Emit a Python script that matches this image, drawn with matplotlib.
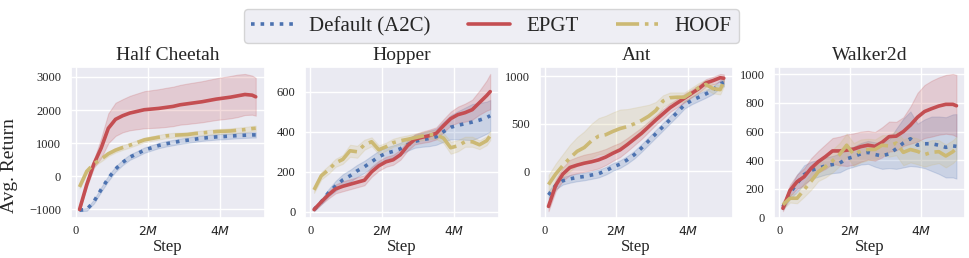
import numpy as np
import matplotlib
matplotlib.use("Agg")
import matplotlib.pyplot as plt
from matplotlib.ticker import FuncFormatter
import seaborn as sns

# training steps (millions)
steps = [0.1, 0.3, 0.5, 0.7, 0.9, 1.1, 1.3, 1.5, 1.7, 1.9, 2.1, 2.3, 2.5,
         2.7, 2.9, 3.1, 3.3, 3.5, 3.7, 3.9, 4.1, 4.3, 4.5, 4.7, 4.9, 5.0]

envs = ["Half Cheetah", "Hopper", "Ant", "Walker2d"]
methods = ["Default (A2C)", "EPGT", "HOOF"]

# Half Cheetah
hc_a2c = [-1020, -1000, -760, -400, -60, 220, 420, 580, 680, 790, 860, 930, 980,
          1020, 1060, 1090, 1120, 1150, 1170, 1190, 1200, 1215, 1230, 1240, 1250, 1250]
hc_a2c_sd = [30, 40, 60, 70, 80, 80, 80, 80, 80, 80, 80, 80, 80,
             80, 80, 80, 80, 80, 80, 80, 80, 80, 80, 80, 80, 80]
hc_epgt = [-1000, -250, 380, 850, 1450, 1720, 1830, 1910, 1960, 2010, 2030, 2050, 2080,
           2110, 2160, 2190, 2220, 2250, 2290, 2330, 2360, 2390, 2430, 2470, 2450, 2400]
hc_epgt_sd = [30, 80, 120, 300, 450, 500, 500, 520, 540, 560, 570, 580, 590,
              595, 600, 610, 615, 620, 625, 630, 635, 640, 640, 620, 590, 570]
hc_hoof = [-320, 150, 380, 520, 680, 790, 870, 940, 1020, 1100, 1140, 1180, 1220,
           1240, 1250, 1260, 1290, 1310, 1330, 1350, 1360, 1370, 1390, 1410, 1440, 1450]
hc_hoof_sd = [40, 60, 70, 70, 70, 70, 70, 70, 70, 70, 70, 70, 70,
              70, 70, 70, 70, 70, 75, 75, 75, 80, 80, 80, 80, 80]

# Hopper
hop_a2c = [12, 50, 95, 130, 160, 180, 205, 225, 250, 275, 292, 302, 315,
           335, 352, 360, 366, 375, 400, 422, 432, 440, 448, 458, 470, 480]
hop_a2c_sd = [8, 12, 18, 25, 28, 30, 30, 30, 30, 30, 30, 30, 30,
              30, 32, 35, 38, 40, 50, 60, 70, 80, 90, 85, 80, 78]
hop_epgt = [12, 50, 85, 115, 128, 138, 148, 158, 200, 230, 250, 260, 285,
            330, 362, 372, 380, 392, 430, 465, 485, 495, 510, 545, 580, 600]
hop_epgt_sd = [8, 12, 18, 22, 25, 25, 25, 25, 25, 25, 25, 25, 25,
               25, 25, 28, 30, 30, 32, 35, 40, 45, 50, 60, 75, 88]
hop_hoof = [110, 180, 210, 245, 262, 305, 300, 335, 350, 310, 325, 345, 355,
            362, 370, 378, 385, 385, 368, 320, 330, 350, 350, 335, 355, 380]
hop_hoof_sd = [15, 18, 20, 20, 22, 30, 30, 25, 22, 22, 20, 20, 20,
               20, 20, 20, 20, 22, 25, 30, 28, 25, 25, 22, 22, 22]

# Ant
ant_a2c = [-250, -150, -100, -80, -65, -55, -40, -25, 5, 45, 75, 120, 175,
           245, 320, 395, 470, 545, 620, 700, 745, 780, 815, 855, 920, 935]
ant_a2c_sd = [40, 40, 40, 40, 40, 40, 40, 40, 40, 40, 40, 40, 40,
              40, 40, 40, 40, 40, 40, 40, 40, 40, 40, 40, 40, 40]
ant_epgt = [-370, -150, -30, 40, 65, 85, 100, 120, 150, 190, 225, 280, 340,
            400, 470, 540, 605, 670, 720, 770, 820, 870, 930, 955, 985, 980]
ant_epgt_sd = [50, 60, 70, 80, 85, 90, 90, 90, 85, 80, 75, 70, 65,
               60, 55, 50, 50, 45, 45, 45, 40, 40, 40, 40, 40, 40]
ant_hoof = [-140, -30, 60, 140, 210, 250, 320, 370, 385, 420, 450, 470, 500,
            535, 580, 640, 740, 775, 780, 780, 830, 880, 915, 870, 860, 945]
ant_hoof_sd = [100, 110, 120, 140, 150, 170, 180, 190, 200, 200, 200, 185, 170,
               150, 120, 90, 60, 55, 50, 50, 50, 50, 50, 50, 50, 50]

# Walker2d
wal_a2c = [75, 170, 240, 300, 330, 345, 360, 370, 380, 410, 425, 445, 455,
           440, 430, 445, 480, 520, 550, 505, 515, 515, 505, 490, 500, 497]
wal_a2c_sd = [20, 40, 60, 65, 60, 60, 60, 60, 65, 70, 70, 75, 80,
              85, 90, 100, 140, 170, 190, 150, 170, 190, 200, 210, 220, 225]
wal_epgt = [65, 190, 250, 285, 345, 390, 425, 465, 465, 470, 478, 495, 505,
            497, 525, 565, 568, 600, 645, 700, 740, 760, 778, 790, 790, 780]
wal_epgt_sd = [20, 40, 50, 60, 70, 75, 85, 90, 100, 110, 110, 105, 100,
               100, 105, 105, 100, 100, 130, 170, 185, 195, 200, 205, 212, 215]
wal_hoof = [90, 135, 135, 195, 255, 320, 355, 395, 440, 505, 440, 465, 475,
            475, 505, 500, 520, 455, 475, 462, 440, 455, 460, 430, 460, 485]
wal_hoof_sd = [30, 30, 35, 50, 60, 65, 75, 80, 80, 80, 80, 80, 75,
               70, 70, 75, 85, 90, 90, 90, 85, 85, 80, 80, 80, 80]

curves = {
    "Half Cheetah": [(hc_a2c, hc_a2c_sd), (hc_epgt, hc_epgt_sd), (hc_hoof, hc_hoof_sd)],
    "Hopper": [(hop_a2c, hop_a2c_sd), (hop_epgt, hop_epgt_sd), (hop_hoof, hop_hoof_sd)],
    "Ant": [(ant_a2c, ant_a2c_sd), (ant_epgt, ant_epgt_sd), (ant_hoof, ant_hoof_sd)],
    "Walker2d": [(wal_a2c, wal_a2c_sd), (wal_epgt, wal_epgt_sd), (wal_hoof, wal_hoof_sd)],
}
yticks = {
    "Half Cheetah": [-1000, 0, 1000, 2000, 3000],
    "Hopper": [0, 200, 400, 600],
    "Ant": [0, 500, 1000],
    "Walker2d": [0, 200, 400, 600, 800, 1000],
}

colors = ["#4C72B0", "#C44E52", "#CCB974"]
styles = [":", "-", "-."]

sns.set_theme(style="darkgrid")
plt.rcParams["font.family"] = ["Liberation Serif", "DejaVu Serif"]

fig = plt.figure(figsize=(9.69, 2.58), dpi=100)
lefts = [0.073, 0.315, 0.557, 0.799]
widths = [0.200, 0.200, 0.199, 0.197]

x = np.array(steps)
handles = []
for i, env in enumerate(envs):
    ax = fig.add_axes([lefts[i], 0.155, widths[i], 0.585])
    for j, (mean, sd) in enumerate(curves[env]):
        mean = np.array(mean, dtype=float)
        sd = np.array(sd, dtype=float)
        ax.fill_between(x, mean - sd, mean + sd, color=colors[j], alpha=0.2, lw=0.8)
        line, = ax.plot(x, mean, color=colors[j], ls=styles[j], lw=2.6, label=methods[j])
        if i == 0:
            handles.append(line)
    ax.set_title(env, fontsize=14, pad=5)
    ax.set_xticks([0, 2, 4])
    ax.xaxis.set_major_formatter(FuncFormatter(lambda v, p: "0" if v == 0 else r"$%dM$" % v))
    ax.set_yticks(yticks[env])
    ax.tick_params(axis="x", labelsize=9, length=0, pad=5)
    ax.tick_params(axis="y", labelsize=9, length=0, pad=7)
    ax.set_xlabel("Step", fontsize=12, labelpad=1)

fig.text(0.001, 0.36, "Avg. Return", rotation=90, fontsize=14, ha="left", va="center")

fig.legend(handles=handles, loc="upper center", bbox_to_anchor=(0.507, 1.005), ncol=3,
           fontsize=15, frameon=True, borderpad=0.35, columnspacing=1.8,
           handletextpad=0.8)

fig.savefig("out.png", dpi=100)
